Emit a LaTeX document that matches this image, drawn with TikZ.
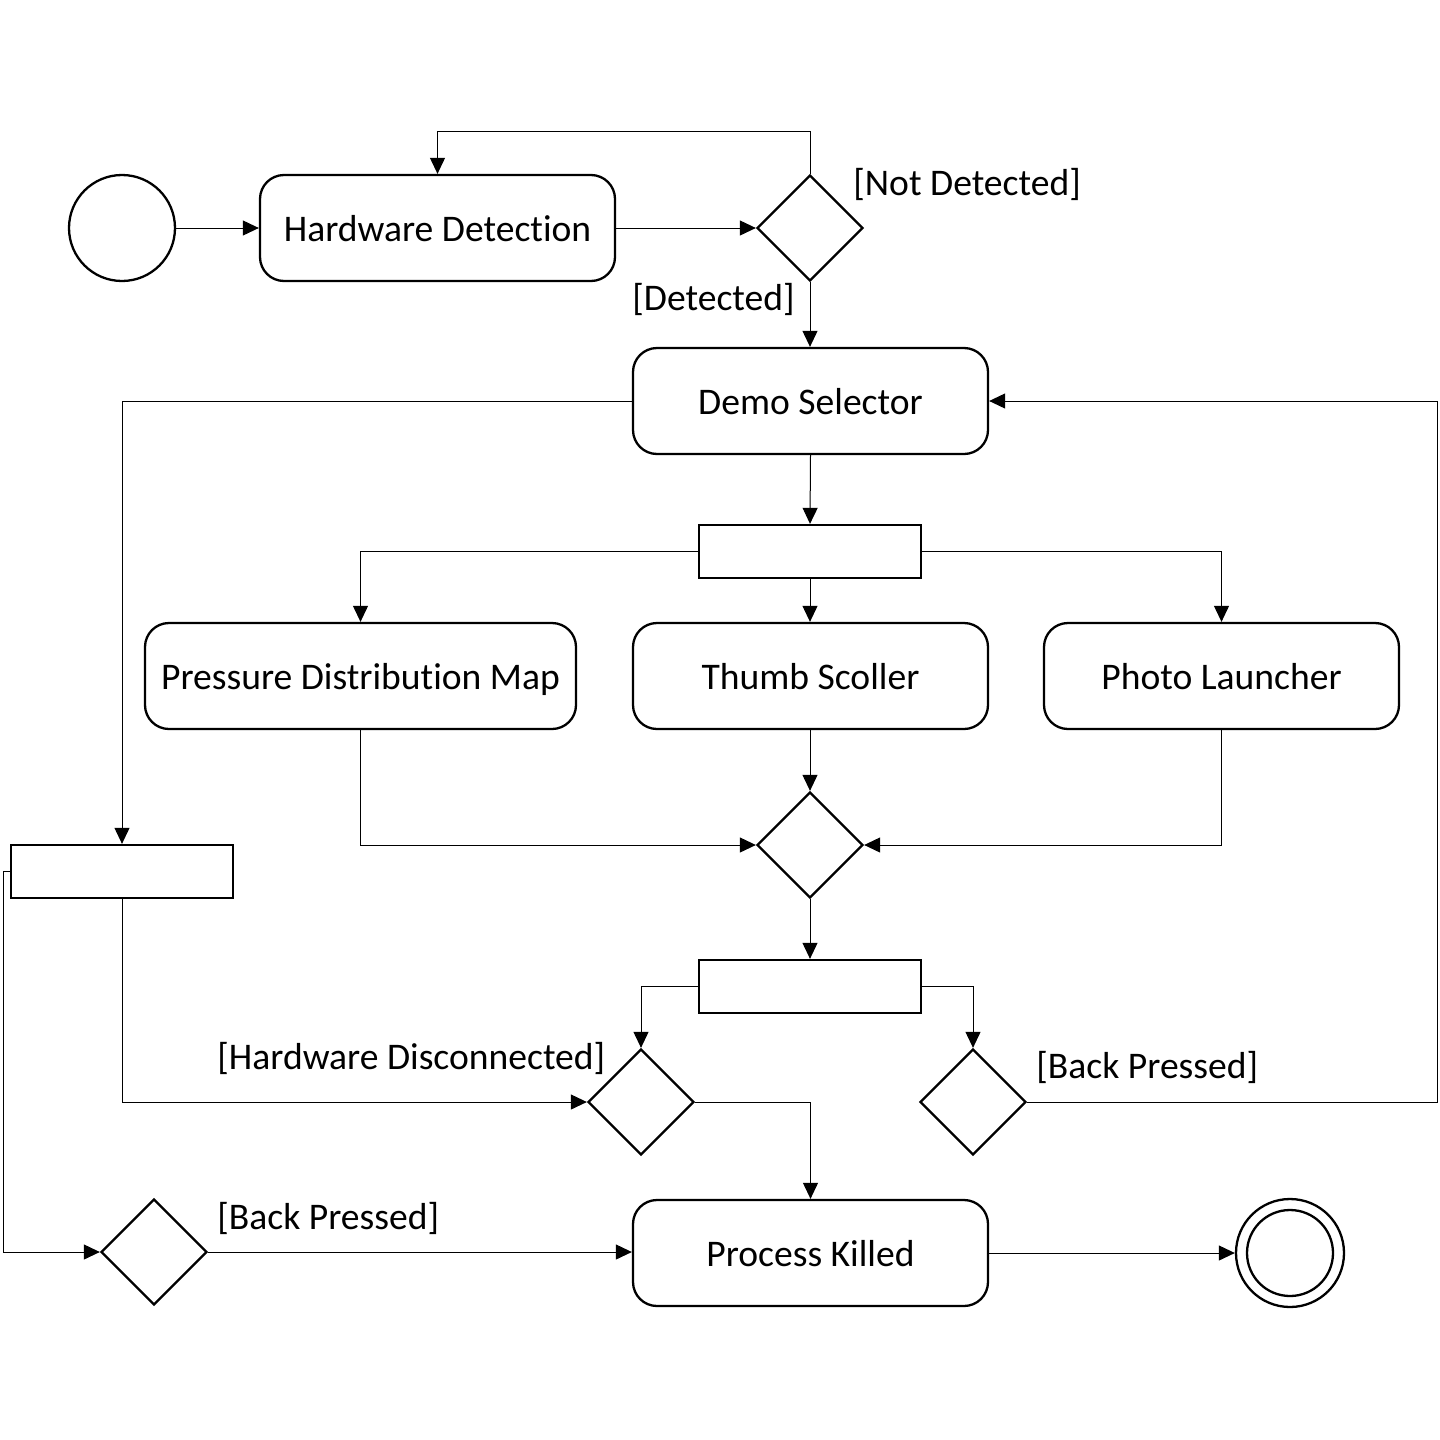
\documentclass[tikz,border=0pt]{standalone}
\usepackage{fontspec}
\setmainfont[Ligatures={NoCommon}]{Carlito}
\usetikzlibrary{shapes.geometric,arrows.meta}
\begin{document}
\begin{tikzpicture}[x=0.5pt,y=-0.5pt,
  shape line/.style={draw=black,line width=1.15pt,fill=white},
  action/.style={shape line,rounded corners=12pt,minimum width=177.5pt,minimum height=53pt,inner sep=0pt,text height=13.5pt,text depth=0pt,font=\fontsize{18.8}{22}\selectfont},
  wideaction/.style={action,minimum width=215.5pt},
  bar/.style={shape line,rectangle,minimum width=111pt,minimum height=26.5pt,inner sep=0pt},
  decision/.style={shape line,diamond,minimum width=53pt,minimum height=53pt,inner sep=0pt},
  startnode/.style={shape line,circle,minimum size=53pt,inner sep=0pt},
  endnode/.style={shape line,circle,minimum size=54pt,inner sep=0pt},
  endinner/.style={shape line,circle,minimum size=43pt,inner sep=0pt},
  conn/.style={draw=black,line width=0.5pt,-{Triangle[length=8pt,width=7.5pt]}},
  guard/.style={anchor=base west,inner sep=0pt,font=\fontsize{18.8}{22}\selectfont}]
\useasboundingbox (0,0) rectangle (1440,1440);

% nodes
\node[startnode] (init) at (122,228) {};
\node[action] (hd) at (437.5,228) {Hardware Detection};
\node[decision] (d1) at (810,228) {};
\node[action] (ds) at (810.5,401) {Demo Selector};
\node[bar] (bar1) at (810,551.5) {};
\node[wideaction] (pdm) at (360.5,676) {Pressure Distribution Map};
\node[action] (ts) at (810.5,676) {Thumb Scoller};
\node[action] (pl) at (1221.5,676) {Photo Launcher};
\node[decision] (d2) at (810,845) {};
\node[bar] (lbar) at (122,871.5) {};
\node[bar] (bar2) at (810,986.5) {};
\node[decision] (d3) at (641,1102) {};
\node[decision] (d4) at (973,1102) {};
\node[decision] (d5) at (154,1252) {};
\node[action] (pk) at (810.5,1253) {Process Killed};
\node[endnode] (final) at (1290,1253) {};
\node[endinner] (finalin) at (final.center) {};

% guard labels
\node[guard] (gnd) at (853,195) {[Not Detected]};
\node[guard] (gd) at (632,310) {[Detected]};
\node[guard] (ghd) at (217,1069) {[Hardware Disconnected]};
\node[guard] (gbp1) at (1036,1078) {[Back Pressed]};
\node[guard] (gbp2) at (217,1229) {[Back Pressed]};

% helper coordinates
\coordinate (rtop) at (1437,401);
\coordinate (lcorner) at (3,1252);

% connectors
\draw[conn] (init.east) -- (hd.west);
\draw[conn] (hd.east) -- (d1.west);
\draw[conn] (d1.north) -- ++(0,-42) -| (hd.north);
\draw[conn] (d1.south) -- (d1.south |- ds.north);
\draw[conn] (ds.south) -- (bar1.north);
\draw[conn] (bar1.west) -| (pdm.north);
\draw[conn] (bar1.south) -- (bar1.south |- ts.north);
\draw[conn] (bar1.east) -| (pl.north);
\draw[conn] (ts.south) -- (ts.south -| d2.north) -- (d2.north);
\draw[conn] (pdm.south) |- (d2.west);
\draw[conn] (pl.south) |- (d2.east);
\draw[conn] (d2.south) -- (bar2.north);
\draw[conn] (bar2.west) -| (d3.north);
\draw[conn] (bar2.east) -| (d4.north);
\draw[conn] (d3.east) -| (pk.north);
\draw[conn] (d4.east) -| (rtop) -- (ds.east);
\draw[conn] (ds.west) -| (lbar.north);
\draw[conn] (lbar.south) |- (d3.west);
\draw[conn] (lbar.west) -| (lcorner) -- (d5.west);
\draw[conn] (d5.east) -- (d5.east -| pk.west);
\draw[conn] (pk.east) -- (final.west);
\end{tikzpicture}
\end{document}
